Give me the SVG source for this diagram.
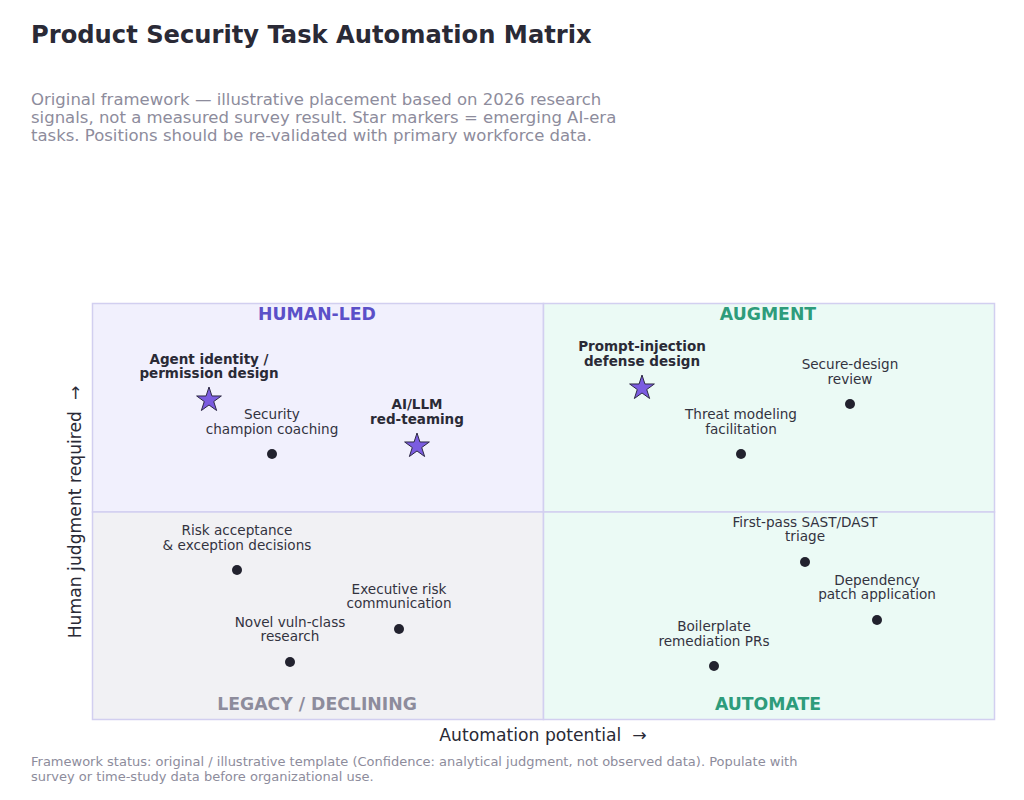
<svg xmlns="http://www.w3.org/2000/svg" xmlns:xlink="http://www.w3.org/1999/xlink" width="1024" height="800" viewBox="0 0 1024 800">
<style>
  text { font-family: "DejaVu Sans", "Liberation Sans", sans-serif; }
  .title { font-size: 24.2px; font-weight: bold; fill: #2a2a36; }
  .sub { font-size: 16.5px; fill: #8d8c9c; }
  .qlab { font-size: 17.3px; font-weight: bold; text-anchor: middle; }
  .lbl { font-size: 13.6px; fill: #33333f; text-anchor: middle; }
  .blbl { font-size: 13.5px; fill: #2a2a36; font-weight: bold; text-anchor: middle; }
  .axis { font-size: 17.2px; fill: #2a2a36; text-anchor: middle; }
  .foot { font-size: 13px; fill: #8d8c9c; }
  .dot { fill: #22222e; }
  .star { fill: #7b5ce0; stroke: #2e2a45; stroke-width: 1; }
  .q { stroke: #d2cff0; stroke-width: 1.5; }
</style>
<defs>
  <polygon id="star" points="0,-13 2.92,-4.02 12.36,-4.02 4.72,1.54 7.64,10.52 0,4.97 -7.64,10.52 -4.72,1.54 -12.36,-4.02 -2.92,-4.02"/>
</defs>
<rect width="1024" height="800" fill="#ffffff"/>
<text class="title" x="31" y="43">Product Security Task Automation Matrix</text>
<text class="sub" x="31" y="105">Original framework — illustrative placement based on 2026 research</text>
<text class="sub" x="31" y="123">signals, not a measured survey result. Star markers = emerging AI-era</text>
<text class="sub" x="31" y="141">tasks. Positions should be re-validated with primary workforce data.</text>

<g id="quadrants">
  <rect class="q" x="92.5" y="303.5" width="451" height="208.5" fill="#f1f0fd"/>
  <rect class="q" x="543.5" y="303.5" width="451" height="208.5" fill="#ebfaf5"/>
  <rect class="q" x="92.5" y="512" width="451" height="207.5" fill="#f1f1f4"/>
  <rect class="q" x="543.5" y="512" width="451" height="207.5" fill="#ebfaf5"/>
  <text class="qlab" x="317" y="320" fill="#5b50c8">HUMAN-LED</text>
  <text class="qlab" x="768" y="320" fill="#2e9c7b">AUGMENT</text>
  <text class="qlab" x="317" y="710" fill="#8d8c9c">LEGACY / DECLINING</text>
  <text class="qlab" x="768" y="710" fill="#2e9c7b">AUTOMATE</text>
</g>

<g id="agent-identity">
  <use xlink:href="#star" class="star" x="209" y="400"/>
  <text class="blbl" x="209" y="364">Agent identity /</text>
  <text class="blbl" x="209" y="378">permission design</text>
</g>
<g id="security-champion">
  <circle class="dot" cx="272" cy="454" r="5"/>
  <text class="lbl" x="272" y="419">Security</text>
  <text class="lbl" x="272" y="434">champion coaching</text>
</g>
<g id="ai-llm-redteaming">
  <use xlink:href="#star" class="star" x="417" y="446"/>
  <text class="blbl" x="417" y="409">AI/LLM</text>
  <text class="blbl" x="417" y="424">red-teaming</text>
</g>
<g id="prompt-injection">
  <use xlink:href="#star" class="star" x="642" y="388"/>
  <text class="blbl" x="642" y="351">Prompt-injection</text>
  <text class="blbl" x="642" y="366">defense design</text>
</g>
<g id="secure-design-review">
  <circle class="dot" cx="850" cy="404" r="5"/>
  <text class="lbl" x="850" y="369">Secure-design</text>
  <text class="lbl" x="850" y="384">review</text>
</g>
<g id="threat-modeling">
  <circle class="dot" cx="741" cy="454" r="5"/>
  <text class="lbl" x="741" y="419">Threat modeling</text>
  <text class="lbl" x="741" y="434">facilitation</text>
</g>
<g id="risk-acceptance">
  <circle class="dot" cx="237" cy="570" r="5"/>
  <text class="lbl" x="237" y="535">Risk acceptance</text>
  <text class="lbl" x="237" y="550">&amp; exception decisions</text>
</g>
<g id="executive-risk">
  <circle class="dot" cx="399" cy="629" r="5"/>
  <text class="lbl" x="399" y="594">Executive risk</text>
  <text class="lbl" x="399" y="608">communication</text>
</g>
<g id="novel-vuln">
  <circle class="dot" cx="290" cy="662" r="5"/>
  <text class="lbl" x="290" y="627">Novel vuln-class</text>
  <text class="lbl" x="290" y="641">research</text>
</g>
<g id="sast-dast">
  <circle class="dot" cx="805" cy="562" r="5"/>
  <text class="lbl" x="805" y="527">First-pass SAST/DAST</text>
  <text class="lbl" x="805" y="541">triage</text>
</g>
<g id="dependency-patch">
  <circle class="dot" cx="877" cy="620" r="5"/>
  <text class="lbl" x="877" y="585">Dependency</text>
  <text class="lbl" x="877" y="599">patch application</text>
</g>
<g id="boilerplate-prs">
  <circle class="dot" cx="714" cy="666" r="5"/>
  <text class="lbl" x="714" y="631">Boilerplate</text>
  <text class="lbl" x="714" y="646">remediation PRs</text>
</g>

<g id="connectors"></g>

<text class="axis" x="543" y="741">Automation potential &#160;→</text>
<text class="axis" transform="translate(81,512) rotate(-90)">Human judgment required &#160;→</text>

<text class="foot" x="31" y="766">Framework status: original / illustrative template (Confidence: analytical judgment, not observed data). Populate with</text>
<text class="foot" x="31" y="781">survey or time-study data before organizational use.</text>
</svg>
